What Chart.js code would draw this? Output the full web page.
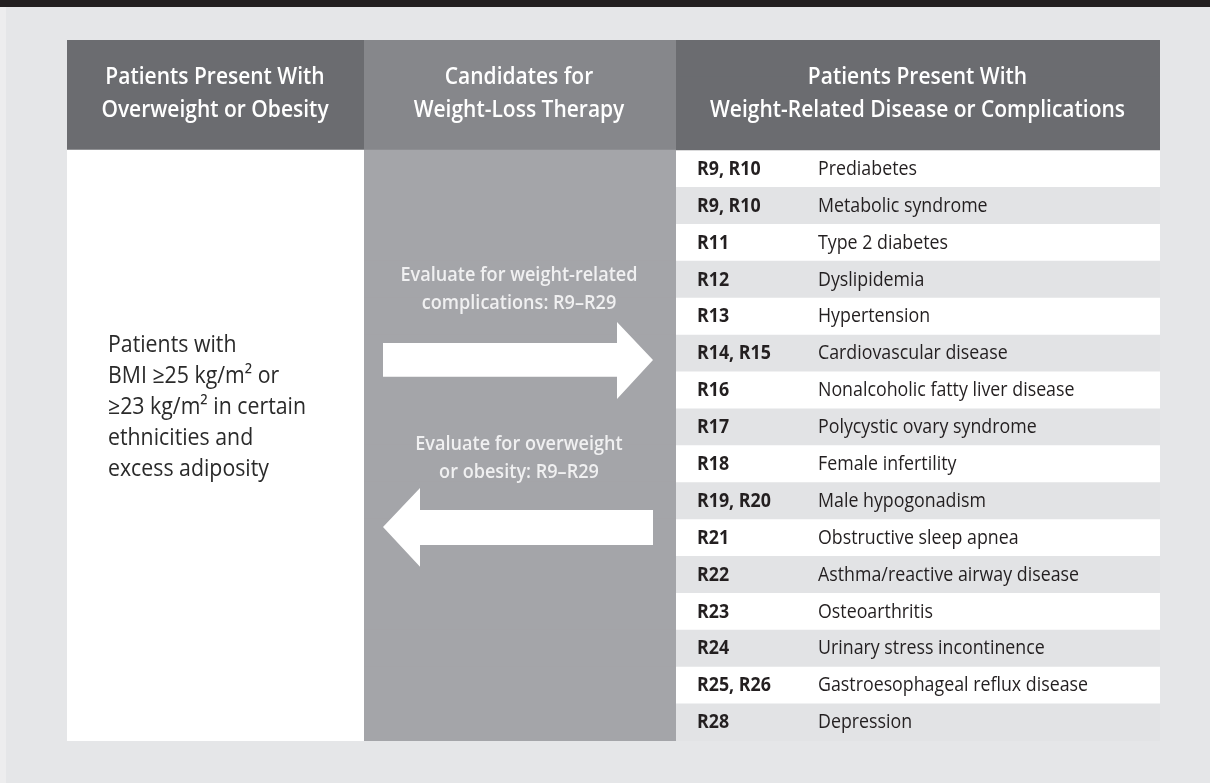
<!DOCTYPE html>
<html>
<head>
<meta charset="utf-8">
<script src="https://cdn.jsdelivr.net/npm/chart.js@4.4.0/dist/chart.umd.min.js"></script>
<style>
    html, body { margin: 0; padding: 0; background: #e5e6e8; }
    canvas { display: block; }
</style>
</head>
<body>
<canvas id="algoChart" width="1210" height="783"></canvas>
<script>
// ---- table content ----
const headerCol1 = ['Patients Present With', 'Overweight or Obesity'];
const headerCol2 = ['Candidates for', 'Weight-Loss Therapy'];
const headerCol3 = ['Patients Present With', 'Weight-Related Disease or Complications'];

const patientLines = ['Patients with', 'BMI ≥25 kg/m² or', '≥23 kg/m² in certain', 'ethnicities and', 'excess adiposity'];
const forwardLabel = ['Evaluate for weight-related', 'complications: R9–R29'];
const backLabel = ['Evaluate for overweight', 'or obesity: R9–R29'];

const codes = ['R9, R10', 'R9, R10', 'R11', 'R12', 'R13', 'R14, R15', 'R16', 'R17', 'R18',
    'R19, R20', 'R21', 'R22', 'R23', 'R24', 'R25, R26', 'R28'];
const conditions = ['Prediabetes', 'Metabolic syndrome', 'Type 2 diabetes', 'Dyslipidemia', 'Hypertension',
    'Cardiovascular disease', 'Nonalcoholic fatty liver disease', 'Polycystic ovary syndrome',
    'Female infertility', 'Male hypogonadism', 'Obstructive sleep apnea', 'Asthma/reactive airway disease',
    'Osteoarthritis', 'Urinary stress incontinence', 'Gastroesophageal reflux disease', 'Depression'];

// ---- layout (x in table units, y in row index units) ----
const HEADER_ROWS = 3;
const COL_EDGES = [0, 296, 608, 1093];
const CODE_X = 630, COND_X = 751, PATIENT_X = 41;
const ARROW_RIGHT = [[316, 7.71], [550, 7.71], [550, 7.14], [586, 8.17], [550, 9.23], [550, 8.63], [316, 8.63]];
const ARROW_LEFT = [[316, 12.70], [353, 11.64], [353, 12.24], [586, 12.24], [586, 13.19], [353, 13.19], [353, 13.78]];

const HEAD_DARK = '#6b6c70', HEAD_MID = '#86878b', BODY_MID = '#a4a5a9', STRIPE = '#e2e3e5';
const TEXT_DARK = '#231f20';

const rowLabels = ['header-1', 'header-2', 'header-3', ...conditions];

function colData(c) {
    return rowLabels.map(() => [COL_EDGES[c], COL_EDGES[c + 1]]);
}

const col1Colors = rowLabels.map((_, i) => i < HEADER_ROWS ? HEAD_DARK : '#ffffff');
const col2Colors = rowLabels.map((_, i) => i < HEADER_ROWS ? HEAD_MID : BODY_MID);
const col3Colors = rowLabels.map((_, i) => i < HEADER_ROWS ? HEAD_DARK : ((i - HEADER_ROWS) % 2 === 0 ? '#ffffff' : STRIPE));

function drawText(ctx, text, x, y, font, color, align, squeeze) {
    ctx.save();
    ctx.font = font;
    ctx.fillStyle = color;
    ctx.textAlign = align;
    ctx.textBaseline = 'middle';
    ctx.translate(x, y);
    ctx.scale(squeeze, 1);
    ctx.fillText(text, 0, 0);
    ctx.restore();
}

function fitSqueeze(ctx, font, ref, target) {
    ctx.save();
    ctx.font = font;
    const w = ctx.measureText(ref).width;
    ctx.restore();
    return w > 0 ? target / w : 1;
}

const pageBackground = {
    id: 'pageBackground',
    beforeDraw(chart) {
        const { ctx, width, height } = chart;
        ctx.save();
        ctx.fillStyle = '#e5e6e8';
        ctx.fillRect(0, 0, width, height);
        ctx.fillStyle = '#ededee';
        ctx.fillRect(0, 7, 6, height - 7);
        ctx.fillStyle = '#231f20';
        ctx.fillRect(0, 0, width, 7);
        ctx.restore();
    }
};

const tableText = {
    id: 'tableText',
    afterDatasetsDraw(chart) {
        const { ctx, scales: { x, y } } = chart;
        const px = v => x.getPixelForValue(v);
        const py = v => y.getPixelForValue(v);

        // arrows
        ctx.save();
        ctx.fillStyle = '#ffffff';
        [ARROW_RIGHT, ARROW_LEFT].forEach(shape => {
            ctx.beginPath();
            shape.forEach(([vx, vy], i) => i ? ctx.lineTo(px(vx), py(vy)) : ctx.moveTo(px(vx), py(vy)));
            ctx.closePath();
            ctx.fill();
        });
        ctx.restore();

        // header
        const headFont = '600 24px "Open Sans"';
        const headSq = fitSqueeze(ctx, headFont, headerCol3[1], 415);
        [headerCol1, headerCol2, headerCol3].forEach((lines, c) => {
            const cx = px((COL_EDGES[c] + COL_EDGES[c + 1]) / 2);
            lines.forEach((t, k) => drawText(ctx, t, cx, py(0.5 + k * 0.9), headFont, '#ffffff', 'center', headSq));
        });

        // left column
        const leftFont = '400 23px "Open Sans"';
        const leftSq = fitSqueeze(ctx, leftFont, patientLines[2], 198);
        patientLines.forEach((t, k) => drawText(ctx, t, px(PATIENT_X), py(7.77 + k * 0.845), leftFont, '#2a2a2a', 'left', leftSq));

        // middle column labels
        const midFont = '600 20px "Open Sans"';
        const midSq = fitSqueeze(ctx, midFont, forwardLabel[0], 237);
        const midX = px((COL_EDGES[1] + COL_EDGES[2]) / 2);
        forwardLabel.forEach((t, k) => drawText(ctx, t, midX, py(5.87 + k * 0.76), midFont, '#f0f0f1', 'center', midSq));
        backLabel.forEach((t, k) => drawText(ctx, t, midX, py(10.46 + k * 0.76), midFont, '#f0f0f1', 'center', midSq));

        // complication rows
        const bodyFont = '400 20px "Open Sans"';
        const codeFont = '700 20px "Open Sans"';
        const bodySq = fitSqueeze(ctx, bodyFont, conditions[14], 270);
        codes.forEach((t, i) => drawText(ctx, t, px(CODE_X), py(i + HEADER_ROWS), codeFont, TEXT_DARK, 'left', bodySq));
        conditions.forEach((t, i) => drawText(ctx, t, px(COND_X), py(i + HEADER_ROWS), bodyFont, TEXT_DARK, 'left', bodySq));
    }
};

new Chart(document.getElementById('algoChart'), {
    type: 'bar',
    data: {
        labels: rowLabels,
        datasets: [
            { data: colData(0), backgroundColor: col1Colors, inflateAmount: 1 },
            { data: colData(1), backgroundColor: col2Colors, inflateAmount: 1 },
            { data: colData(2), backgroundColor: col3Colors, inflateAmount: 0.5 }
        ]
    },
    options: {
        indexAxis: 'y',
        responsive: false,
        animation: false,
        layout: { padding: { left: 67, right: 50, top: 40, bottom: 42 } },
        datasets: {
            bar: { grouped: false, barPercentage: 1, categoryPercentage: 1, borderWidth: 0 }
        },
        scales: {
            x: { type: 'linear', min: COL_EDGES[0], max: COL_EDGES[3], display: false },
            y: { display: false }
        },
        plugins: {
            legend: { display: false },
            tooltip: { enabled: false }
        }
    },
    plugins: [pageBackground, tableText]
});
</script>
</body>
</html>
